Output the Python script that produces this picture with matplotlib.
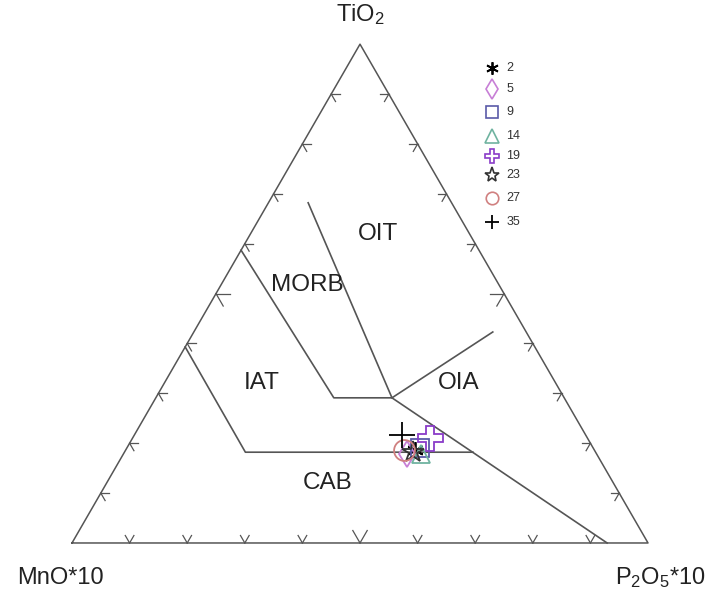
import numpy as np
import matplotlib.pyplot as plt

plt.rcParams['font.family'] = ['Liberation Sans', 'DejaVu Sans']
plt.rcParams['mathtext.default'] = 'regular'

# sample compositions (normalised %): MnO*10, TiO2, P2O5*10
samples = ['2', '5', '9', '14', '19', '23', '27', '35']
mno = [31.1, 32.9, 30.1, 30.5, 27.3, 31.7, 33.0, 31.9]
tio2 = [18.6, 17.8, 19.0, 17.8, 21.1, 18.2, 18.6, 21.7]
p2o5 = [50.3, 49.3, 50.9, 51.7, 51.6, 50.1, 48.4, 46.4]

markers = ['*', 'd', 's', '^', 'P', '*', 'o', '+']
colors = ['black', '#c77fd6', '#5a5aa8', '#6fb3a0', '#8a3cc8', '#333333', '#d08080', 'black']

# field boundaries (MnO*10, TiO2, P2O5*10)
fields = [
    [(41.3, 58.7, 0.0), (40.0, 29.1, 30.9), (29.9, 29.1, 41.0)],
    [(24.9, 68.2, 6.9), (29.9, 29.1, 41.0), (5.8, 42.3, 51.9)],
    [(29.9, 29.1, 41.0), (7.1, 0.0, 92.9)],
    [(60.7, 39.3, 0.0), (60.8, 18.2, 21.0), (21.3, 18.2, 60.5)],
]
field_names = ['OIT', 'MORB', 'IAT', 'OIA', 'CAB']
field_pos = [(15.9, 62.0, 22.1), (33.3, 51.7, 15.0), (51.0, 32.1, 16.9),
             (16.9, 32.1, 51.0), (49.7, 12.0, 38.3)]


def tern(m, t, p):
    m, t, p = np.asarray(m, float), np.asarray(t, float), np.asarray(p, float)
    s = m + t + p
    return (p + t / 2) / s, t * np.sqrt(3) / 2 / s


fig = plt.figure(figsize=(7.07, 5.92), dpi=100)
ax = fig.add_axes([0, 0, 1, 1])
ax.set_xlim(-0.125, 1.1024)
ax.set_ylim(-0.0851, 0.9427)
ax.axis('off')

lc = '#555555'
h = np.sqrt(3) / 2
ax.plot([0, 1, 0.5, 0], [0, 0, h, 0], color=lc, lw=1.1)

# ticks
for k in range(1, 10):
    f = k / 10
    L = 0.025 if k == 5 else 0.015
    # bottom
    for a in (60, 120):
        ax.plot([f, f + L * np.cos(np.radians(a))], [0, L * np.sin(np.radians(a))], color=lc, lw=0.9)
    # left
    x0, y0 = 0.5 * f, h * f
    for a in (0, -60):
        ax.plot([x0, x0 + L * np.cos(np.radians(a))], [y0, y0 + L * np.sin(np.radians(a))], color=lc, lw=0.9)
    # right
    x0, y0 = 1 - 0.5 * f, h * f
    for a in (180, 240):
        ax.plot([x0, x0 + L * np.cos(np.radians(a))], [y0, y0 + L * np.sin(np.radians(a))], color=lc, lw=0.9)

for line in fields:
    m, t, p = zip(*line)
    x, y = tern(m, t, p)
    ax.plot(x, y, color=lc, lw=1.2)

for name, (m, t, p) in zip(field_names, field_pos):
    x, y = tern(m, t, p)
    ax.text(x, y, name, fontsize=17.5, ha='center', va='center', color='#222222')

ax.text(0.5, 0.917, 'TiO$_2$', fontsize=17, ha='center', va='center', color='#222222')
ax.text(-0.02, -0.06, 'MnO*10', fontsize=17, ha='center', va='center', color='#222222')
ax.text(1.021, -0.06, 'P$_2$O$_5$*10', fontsize=17, ha='center', va='center', color='#222222')

sizes = [12, 13, 13, 13, 18, 16, 15, 19]
for i in range(len(samples)):
    x, y = tern(mno[i], tio2[i], p2o5[i])
    mk = markers[i]
    if mk == '+':
        ax.plot(x, y, marker=mk, color=colors[i], ms=sizes[i], mew=1.3, ls='none')
    elif i == 0:
        ax.plot(x, y, marker=(6, 2, 0), color=colors[i], ms=sizes[i], mew=1.3, ls='none')
    else:
        ax.plot(x, y, marker=mk, mfc='none', mec=colors[i], ms=sizes[i], mew=1.3, ls='none')

# legend drawn manually at the top right
leg_y = [0.825, 0.788, 0.748, 0.706, 0.672, 0.639, 0.599, 0.557]
leg_s = [9, 10, 9, 10, 10, 11, 9, 10]
for i in range(len(samples)):
    mk = markers[i]
    if mk == '+':
        ax.plot(0.729, leg_y[i], marker=mk, color=colors[i], ms=leg_s[i], mew=1.3)
    elif i == 0:
        ax.plot(0.729, leg_y[i], marker=(6, 2, 0), color=colors[i], ms=leg_s[i], mew=1.3)
    else:
        ax.plot(0.729, leg_y[i], marker=mk, mfc='none', mec=colors[i], ms=leg_s[i], mew=1.2)
    ax.text(0.754, leg_y[i], samples[i], fontsize=9, va='center', ha='left', color='#333333')

fig.savefig('out.png', dpi=100)
